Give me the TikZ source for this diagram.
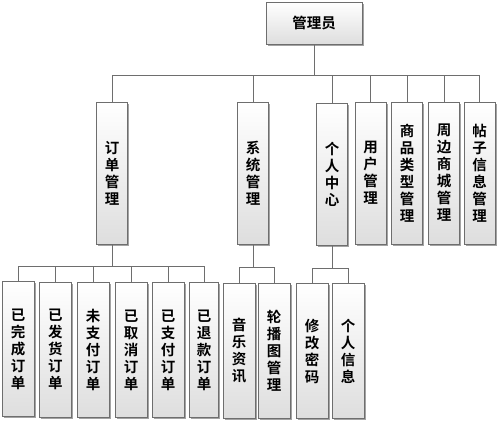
\documentclass[tikz,border=0pt]{standalone}
\usepackage{fontspec}
\newfontfamily\cjk{Noto Sans CJK SC Bold}
\usetikzlibrary{shadows}
\definecolor{edge}{HTML}{6E6E6E}
\tikzset{
  box/.style={draw=edge, line width=0.8pt, top color=white, bottom color=black!13,
    drop shadow={shadow xshift=1.6pt, shadow yshift=-1.6pt, fill=black!45, opacity=0.8},
    inner sep=0pt, align=center, font=\cjk\fontsize{14.5}{17}\selectfont},
  vbox/.style={box, minimum width=31pt, minimum height=142pt},
  lbox/.style={box, minimum width=32pt, minimum height=135pt},
  link/.style={draw=edge, line width=0.8pt}
}
\begin{document}
\begin{tikzpicture}[x=1pt, y=-1pt]
\useasboundingbox (0,0) rectangle (499,424);
\node[box, minimum width=96pt, minimum height=42pt] (root) at (314,23) {管理员};
% level 2
\node[vbox] (dd) at (112,173) {订\\单\\管\\理};
\node[vbox] (xt) at (253,173) {系\\统\\管\\理};
\node[vbox] (gr) at (332,174) {个\\人\\中\\心};
\node[vbox] (yh) at (370.5,173) {用\\户\\管\\理};
\node[vbox] (sp) at (407,173) {商\\品\\类\\型\\管\\理};
\node[vbox] (zb) at (444,173) {周\\边\\商\\城\\管\\理};
\node[vbox] (tz) at (479.5,173) {帖\\子\\信\\息\\管\\理};
% level 3
\node[lbox] (a1) at (18,349) {已\\完\\成\\订\\单};
\node[lbox] (a2) at (55.5,349.5) {已\\发\\货\\订\\单};
\node[lbox] (a3) at (93,349.5) {未\\支\\付\\订\\单};
\node[lbox] (a4) at (131,350) {已\\取\\消\\订\\单};
\node[lbox] (a5) at (168,350) {已\\支\\付\\订\\单};
\node[lbox, minimum width=29pt] (a6) at (204,350) {已\\退\\款\\订\\单};
\node[lbox] (b1) at (239,351) {音\\乐\\资\\讯};
\node[lbox] (b2) at (274,351) {轮\\播\\图\\管\\理};
\node[lbox] (c1) at (312,351) {修\\改\\密\\码};
\node[lbox] (c2) at (348,351) {个\\人\\信\\息};
% connectors
\foreach \c in {dd,xt,gr,yh,sp,zb,tz}
  \draw[link] (root.south) -- ++(0,31) -| (\c.north);
\foreach \c in {a1,a2,a3,a4,a5,a6}
  \draw[link] (dd.south) -- ++(0,22) -| (\c.north);
\foreach \c in {b1,b2}
  \draw[link] (xt.south) -- ++(0,23) -| (\c.north);
\foreach \c in {c1,c2}
  \draw[link] (gr.south) -- ++(0,23) -| (\c.north);
\end{tikzpicture}
\end{document}
